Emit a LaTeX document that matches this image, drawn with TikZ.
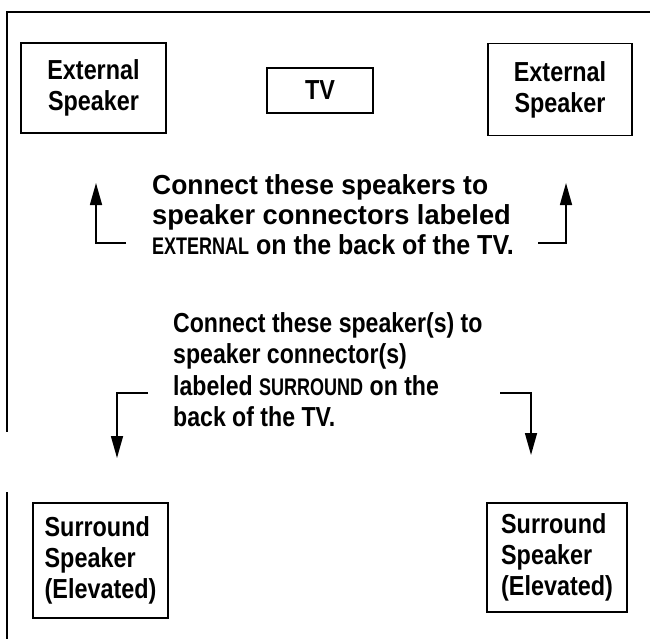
\documentclass[tikz,border=0pt]{standalone}
\usepackage{fontspec}
\setmainfont{Liberation Sans}[FakeStretch=0.85]
\newfontfamily\upfam{Liberation Sans}[FakeStretch=0.96]
\newfontfamily\upfamb{Liberation Sans}[FakeStretch=0.99]
\newfontfamily\upfamc{Liberation Sans}[FakeStretch=0.91]
\newfontfamily\lowfam{Liberation Sans}[FakeStretch=0.84]
\newfontfamily\capfam{Liberation Sans}[FakeStretch=0.75]
\usetikzlibrary{arrows.meta}
\newcommand{\bigf}{\fontsize{27.5}{31}\selectfont\bfseries}
\newcommand{\capf}[1]{{\capfam\fontsize{24}{31}\selectfont\bfseries #1}}
\begin{document}
\begin{tikzpicture}[x=1pt,y=-1pt,
  box/.style={draw, line width=1.2pt, inner sep=0pt, align=center, font=\bigf},
  lbox/.style={draw, line width=1.2pt, inner sep=0pt, align=left, font=\bigf},
  txt/.style={anchor=base west, inner sep=0pt},
  conn/.style={line width=1.5pt, -{Triangle[length=22pt,width=12pt]}},
  framel/.style={line width=1.3pt}]
\useasboundingbox (0,0) rectangle (650,639);
% frame
\draw[framel] (650,12) -- (7,12) -- (7,432);
\draw[framel] (7,492) -- (7,639);
% boxes
\node[box, minimum width=145pt, minimum height=90pt] (extL) at (93.5,88) {External\\Speaker};
\node[box, minimum width=106pt, minimum height=45pt] (tv) at (320,90.5) {TV};
\node[box, minimum width=144pt, minimum height=92pt] (extR) at (560,89.5) {External\\Speaker};
\node[lbox, minimum width=135pt, minimum height=115pt] (surL) at (100.5,560.5) {Surround\\Speaker\\(Elevated)};
\node[lbox, minimum width=140pt, minimum height=109pt] (surR) at (557,557.5) {Surround\\Speaker\\(Elevated)};
% upper text
\node[txt, font=\upfam\bigf] (u1) at (152,194) {Connect these speakers to};
\node[txt, font=\upfamb\bigf] (u2) at (152,224) {speaker connectors labeled};
\node[txt, font=\upfamc\bigf] (u3) at (152,254) {\capf{EXTERNAL} on the back of the TV.};
% lower text
\node[txt, font=\lowfam\bigf] (l1) at (173,332) {Connect these speaker(s) to};
\node[txt, font=\lowfam\bigf] (l2) at (173,363) {speaker connector(s)};
\node[txt, font=\lowfam\bigf] (l3) at (173,395) {labeled \capf{SURROUND} on the};
\node[txt, font=\lowfam\bigf] (l4) at (173,426) {back of the TV.};
% arrows
\coordinate (a1s) at (126,243);
\coordinate (a1t) at (96,183);
\coordinate (a2s) at (538,243);
\coordinate (a2t) at (566,183);
\coordinate (a3s) at (148,393);
\coordinate (a3t) at (117,458);
\coordinate (a4s) at (500,393);
\coordinate (a4t) at (531,455);
\draw[conn] (a1s) -| (a1t);
\draw[conn] (a2s) -| (a2t);
\draw[conn] (a3s) -| (a3t);
\draw[conn] (a4s) -| (a4t);
\end{tikzpicture}
\end{document}
